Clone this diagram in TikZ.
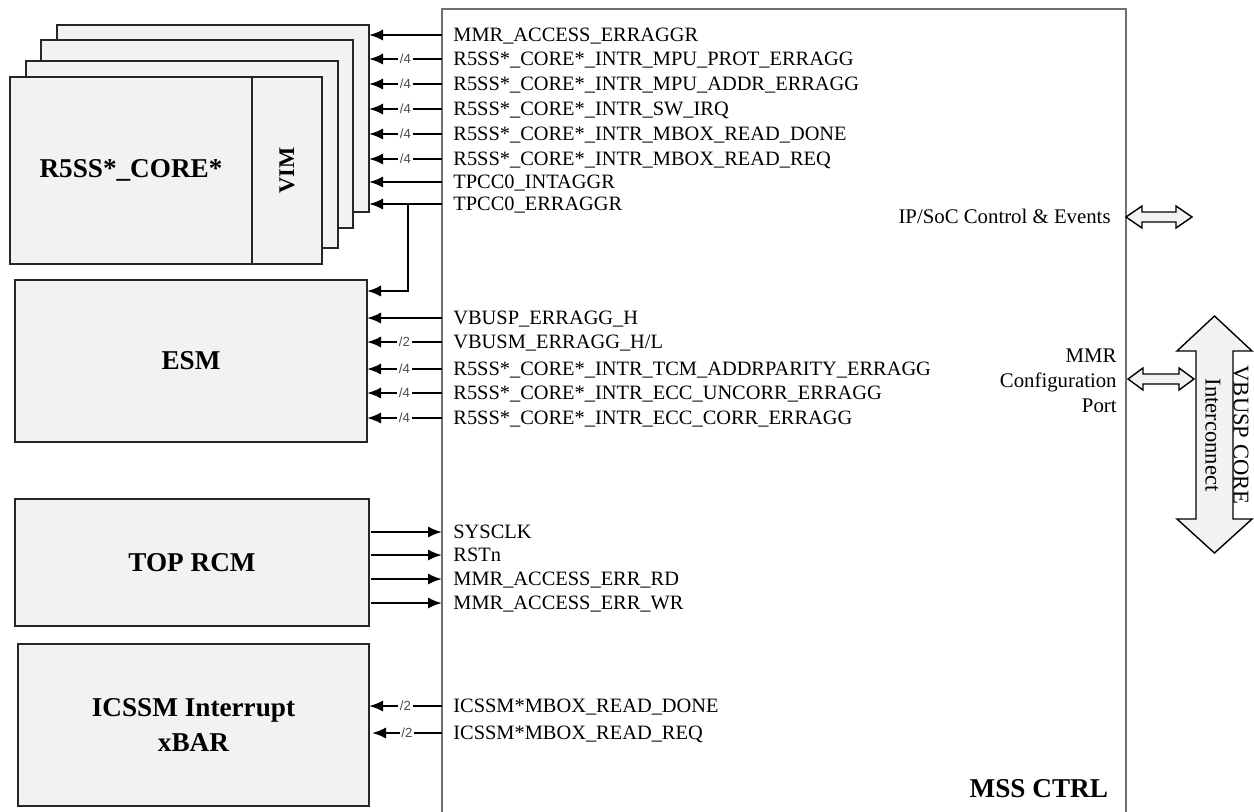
\documentclass[tikz,border=0pt]{standalone}
\usepackage{fontspec}
\setmainfont{Liberation Serif}
\newfontfamily\smallsans{Liberation Sans}
\usetikzlibrary{arrows.meta}
\definecolor{boxfill}{RGB}{242,242,242}
\definecolor{framegray}{RGB}{112,112,112}
\begin{document}
\begin{tikzpicture}[x=0.5pt,y=-0.5pt,
  blk/.style={draw=black!85, fill=boxfill, line width=0.6pt, inner sep=0pt, outer sep=0pt, anchor=north west},
  title/.style={font=\bfseries\fontsize{13.6}{17.5}\selectfont, align=center},
  sig/.style={line width=1.1pt, -{Latex[length=7pt,width=5.6pt]}},
  lbl/.style={anchor=west, inner sep=0pt, font=\fontsize{10.2}{12}\selectfont, text height=7.5pt, text depth=1.5pt},
  bus/.style={fill=white, inner xsep=0.8pt, inner ysep=0.3pt, font=\smallsans\fontsize{6.6}{7}\selectfont, text=black!70},
  dbl/.style={draw=black, fill=boxfill, line width=0.7pt, line join=miter},
]
\fill[white] (0,0) rectangle (1254,811);
\useasboundingbox (0,0) rectangle (1254,811);

% main block
\node[draw=framegray, line width=0.7pt, inner sep=0pt, outer sep=0pt, anchor=north west,
      minimum width=342pt, minimum height=420pt] (mss) at (442,9) {};
\node[title, anchor=base east] (msst) at (1115,797) {MSS CTRL};

% core stack
\node[blk, minimum width=156pt, minimum height=93.5pt] (c3) at (57,25) {};
\node[blk, minimum width=156pt, minimum height=94pt] (c2) at (41,40) {};
\node[blk, minimum width=156pt, minimum height=93.5pt] (c1) at (26,61) {};
\node[blk, title, minimum width=121pt, minimum height=93.5pt] (core) at (10,77) {R5SS*\_CORE*};
\node[blk, minimum width=35pt, minimum height=93.5pt] (vim) at (252,77) {};
\node[font=\bfseries\fontsize{11.2}{13}\selectfont, rotate=90] (vimt) at (vim.center) {VIM};

% other blocks
\node[blk, title, minimum width=176pt, minimum height=81pt] (esm) at (15,280) {ESM};
\node[blk, title, minimum width=177pt, minimum height=63.5pt] (rcm) at (15,499) {TOP RCM};
\node[blk, title, minimum width=175.5pt, minimum height=81pt] (icssm) at (18,644) {ICSSM Interrupt\\xBAR};

% signals to cores
\node[lbl] (t1) at (453,35) {MMR\_ACCESS\_ERRAGGR};
\node[lbl] (t2) at (453,59) {R5SS*\_CORE*\_INTR\_MPU\_PROT\_ERRAGG};
\node[lbl] (t3) at (453,84) {R5SS*\_CORE*\_INTR\_MPU\_ADDR\_ERRAGG};
\node[lbl] (t4) at (453,109) {R5SS*\_CORE*\_INTR\_SW\_IRQ};
\node[lbl] (t5) at (453,134) {R5SS*\_CORE*\_INTR\_MBOX\_READ\_DONE};
\node[lbl] (t6) at (453,159) {R5SS*\_CORE*\_INTR\_MBOX\_READ\_REQ};
\node[lbl] (t7) at (453,182) {TPCC0\_INTAGGR};
\node[lbl] (t8) at (453,204) {TPCC0\_ERRAGGR};
\draw[sig] (mss.west |- t1) -- (c3.east |- t1);
\draw[sig] (mss.west |- t2) -- (c3.east |- t2) node[bus, midway] {/4};
\draw[sig] (mss.west |- t3) -- (c3.east |- t3) node[bus, midway] {/4};
\draw[sig] (mss.west |- t4) -- (c3.east |- t4) node[bus, midway] {/4};
\draw[sig] (mss.west |- t5) -- (c3.east |- t5) node[bus, midway] {/4};
\draw[sig] (mss.west |- t6) -- (c3.east |- t6) node[bus, midway] {/4};
\draw[sig] (mss.west |- t7) -- (c3.east |- t7);
\draw[sig] (mss.west |- t8) -- (c3.east |- t8);
\coordinate (tap) at (408,0);
\draw[sig] (tap |- t8) |- (esm.east |- 0,291);

% signals to ESM
\node[lbl] (e1) at (453,318) {VBUSP\_ERRAGG\_H};
\node[lbl] (e2) at (453,342) {VBUSM\_ERRAGG\_H/L};
\node[lbl] (e3) at (453,369) {R5SS*\_CORE*\_INTR\_TCM\_ADDRPARITY\_ERRAGG};
\node[lbl] (e4) at (453,393) {R5SS*\_CORE*\_INTR\_ECC\_UNCORR\_ERRAGG};
\node[lbl] (e5) at (453,418) {R5SS*\_CORE*\_INTR\_ECC\_CORR\_ERRAGG};
\draw[sig] (mss.west |- e1) -- (esm.east |- e1);
\draw[sig] (mss.west |- e2) -- (esm.east |- e2) node[bus, midway] {/2};
\draw[sig] (mss.west |- e3) -- (esm.east |- e3) node[bus, midway] {/4};
\draw[sig] (mss.west |- e4) -- (esm.east |- e4) node[bus, midway] {/4};
\draw[sig] (mss.west |- e5) -- (esm.east |- e5) node[bus, midway] {/4};

% signals from TOP RCM
\node[lbl] (r1) at (453,532) {SYSCLK};
\node[lbl] (r2) at (453,555) {RSTn};
\node[lbl] (r3) at (453,579) {MMR\_ACCESS\_ERR\_RD};
\node[lbl] (r4) at (453,603) {MMR\_ACCESS\_ERR\_WR};
\draw[sig] ([xshift=1pt]rcm.east |- r1) -- (mss.west |- r1);
\draw[sig] ([xshift=1pt]rcm.east |- r2) -- (mss.west |- r2);
\draw[sig] ([xshift=1pt]rcm.east |- r3) -- (mss.west |- r3);
\draw[sig] ([xshift=1pt]rcm.east |- r4) -- (mss.west |- r4);

% signals to ICSSM
\node[lbl] (i1) at (453,706) {ICSSM*MBOX\_READ\_DONE};
\node[lbl] (i2) at (453,733) {ICSSM*MBOX\_READ\_REQ};
\draw[sig] (mss.west |- i1) -- (icssm.east |- i1) node[bus, midway] {/2};
\draw[sig] (mss.west |- i2) -- ([xshift=1.5pt]icssm.east |- i2) node[bus, midway] {/2};

% right side
\node[anchor=east, inner sep=0pt, font=\fontsize{10.4}{12.5}\selectfont] (ipsoc) at (1111,216) {IP/SoC Control \& Events};
\draw[dbl] (1126,217) -- (1142,206) -- (1142,212) -- (1176,212) -- (1176,206) -- (1192,217)
  -- (1176,228) -- (1176,222) -- (1142,222) -- (1142,228) -- cycle;
\node[anchor=east, align=right, inner sep=0pt, font=\fontsize{10.4}{12.5}\selectfont] (mmrport) at (1117,381) {MMR\\Configuration\\Port};
\draw[dbl] (1128,379) -- (1143,368) -- (1143,374) -- (1179,374) -- (1179,368) -- (1194,379)
  -- (1179,390) -- (1179,384) -- (1143,384) -- (1143,390) -- cycle;
\draw[dbl] (1214.5,316) -- (1252,351) -- (1233,351) -- (1233,519) -- (1252,519) -- (1214.5,553)
  -- (1177,519) -- (1196,519) -- (1196,351) -- (1177,351) -- cycle;
\node[rotate=-90, align=center, inner sep=0pt, font=\fontsize{11.3}{14}\selectfont] (vbusp) at (1227,435) {VBUSP CORE\\Interconnect};
\end{tikzpicture}
\end{document}
